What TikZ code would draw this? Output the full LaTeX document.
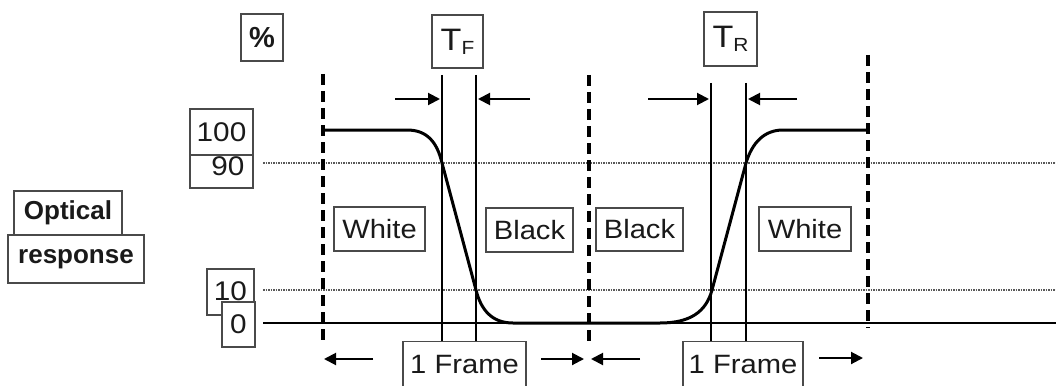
\documentclass[tikz,border=0pt]{standalone}
\usepackage{fontspec}
\setmainfont{Liberation Sans}[FakeStretch=1.1]
\newfontfamily\plainsans{Liberation Sans}
\usetikzlibrary{arrows.meta}
\definecolor{boxc}{HTML}{4A4A4A}
\definecolor{txtc}{HTML}{1A1A1A}
\begin{document}
\begin{tikzpicture}[x=1pt,y=-1pt,
 box/.style={draw=boxc, line width=1.1pt, fill=white, inner sep=0pt, text=txtc, font=\fontsize{26.5}{26.5}\selectfont},
 wh/.style 2 args={minimum width=#1, minimum height=#2},
 boldlbl/.style={font=\plainsans\bfseries\fontsize{26}{26}\selectfont},
 numlbl/.style={font=\fontsize{27}{27}\selectfont},
 curve/.style={line width=3pt, line join=round},
 level/.style={line width=1.8pt},
 dotl/.style={line width=1.5pt, gray!70!black, dash pattern=on 1.5pt off 1pt},
 framel/.style={line width=4pt, dash pattern=on 11pt off 6pt},
 marker/.style={line width=2.6pt},
 arr/.style={line width=2pt, -{Triangle[length=12pt,width=12pt]}}
]
\useasboundingbox (0,0) rectangle (1056,385);

% axis coordinates
\coordinate (l90a) at (263,163);  \coordinate (l90b) at (1056,163);
\coordinate (l10a) at (263,290);  \coordinate (l10b) at (1056,290);
\coordinate (l0a)  at (263,323);  \coordinate (l0b)  at (1056,323);

\draw[dotl] (l90a) -- (l90b);
\draw[dotl] (l10a) -- (l10b);
\draw[level] (l0a) -- (l0b);

% response curve
\draw[curve] (323,130) -- (407,130) .. controls (427,130) and (437,142) .. (442,163)
  -- (476,290) .. controls (481,310) and (492,323) .. (513,323) -- (660,323)
  .. controls (690,323) and (706,312) .. (712,290) -- (746,163)
  .. controls (752,143) and (764,130) .. (783,130) -- (868,130);

% frame boundaries
\coordinate (f1t) at (323,74);  \coordinate (f1b) at (323,345);
\coordinate (f2t) at (589,75);  \coordinate (f2b) at (589,347);
\coordinate (f3t) at (868,55);  \coordinate (f3b) at (868,328);
\draw[framel] (f1t) -- (f1b);
\draw[framel] (f2t) -- (f2b);
\draw[framel] (f3t) -- (f3b);

% boxes
\node[box, wh={42pt}{47pt}, font=\plainsans\bfseries\fontsize{29}{29}\selectfont] (pct) at (262,37.5) {\%};
\node[box, wh={63pt}{46pt}, numlbl] (b100) at (221.5,132) {100};
\node[box, wh={63pt}{33pt}] (b90) at (221.5,171.5) {};
\node[text=txtc, inner sep=0pt, numlbl] (t90) at (228,166) {90};
\node[box, wh={108pt}{44pt}, boldlbl] (opt) at (68,213) {Optical};
\node[box, wh={136pt}{48pt}, boldlbl] (resp) at (76,259) {response};
\node[box, wh={47pt}{46pt}, numlbl] (b10) at (230.5,292) {\raisebox{2pt}{10}};
\node[box, wh={33pt}{45pt}, numlbl] (b0) at (238.5,324.5) {0};

\node[box, wh={91pt}{44pt}] (w1) at (379.5,229) {White};
\node[box, wh={87pt}{44pt}] (k1) at (529.5,230) {Black};
\node[box, wh={87pt}{43pt}] (k2) at (639.5,229.5) {Black};
\node[box, wh={92pt}{44pt}] (w2) at (805,229) {White};

\node[box, wh={51pt}{53pt}] (tf) at (457.5,41.5) {\fontsize{31}{31}\selectfont T\raisebox{-4pt}{\fontsize{19}{19}\selectfont F}};
\node[box, wh={53pt}{54pt}] (tr) at (730.5,39) {\fontsize{31}{31}\selectfont T\raisebox{-4pt}{\fontsize{19}{19}\selectfont R}};

\node[box, wh={123pt}{50pt}, anchor=north] (fr1) at (464.5,341) {\raisebox{4pt}{1 Frame}};
\node[box, wh={120pt}{50pt}, anchor=north] (fr2) at (743,341) {\raisebox{4pt}{1 Frame}};

% transition markers
\draw[marker] (442,75) -- (442,341);
\draw[marker] (476,75) -- (476,341);
\draw[marker] (711,83) -- (711,341);
\draw[marker] (746,83) -- (746,341);

% marker arrows
\coordinate (a1s) at (395,99);  \coordinate (a1e) at (440,99);
\coordinate (a2s) at (530,99);  \coordinate (a2e) at (478,99);
\coordinate (a3s) at (648,99);  \coordinate (a3e) at (709,99);
\coordinate (a4s) at (797,99);  \coordinate (a4e) at (748,99);
\draw[arr] (a1s) -- (a1e);
\draw[arr] (a2s) -- (a2e);
\draw[arr] (a3s) -- (a3e);
\draw[arr] (a4s) -- (a4e);

% frame arrows
\coordinate (b1s) at (373,359);  \coordinate (b1e) at (324,359);
\coordinate (b2s) at (541,359);  \coordinate (b2e) at (584,359);
\coordinate (b3s) at (640,359);  \coordinate (b3e) at (591,359);
\coordinate (b4s) at (819,358);  \coordinate (b4e) at (863,358);
\draw[arr] (b1s) -- (b1e);
\draw[arr] (b2s) -- (b2e);
\draw[arr] (b3s) -- (b3e);
\draw[arr] (b4s) -- (b4e);
\end{tikzpicture}
\end{document}
